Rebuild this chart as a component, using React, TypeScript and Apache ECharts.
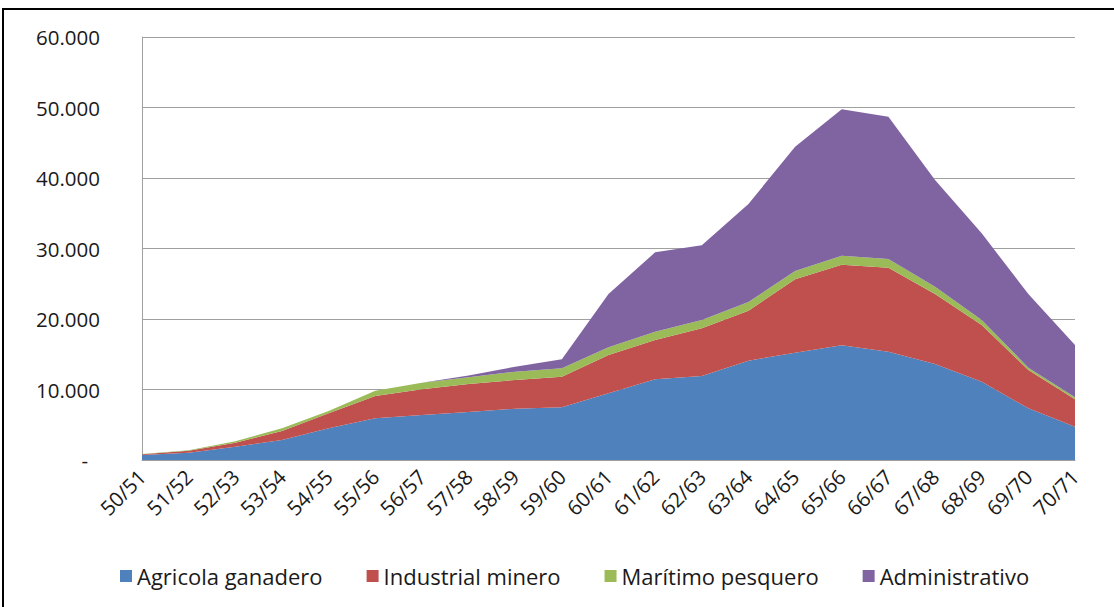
import React, { useEffect, useRef } from "react";
import * as echarts from "echarts";

const categories = [
  "50/51", "51/52", "52/53", "53/54", "54/55", "55/56", "56/57", "57/58", "58/59", "59/60",
  "60/61", "61/62", "62/63", "63/64", "64/65", "65/66", "66/67", "67/68", "68/69", "69/70", "70/71",
];

const agricola = [700, 1040, 1890, 2840, 4500, 5910, 6380, 6810, 7280, 7470, 9460, 11440, 11910, 14090, 15220, 16260, 15370, 13620, 11110, 7330, 4730];
const industrial = [120, 280, 560, 1270, 2120, 3170, 3650, 3970, 4070, 4350, 5430, 5580, 6770, 7090, 10410, 11450, 11910, 9930, 8040, 5440, 3870];
const maritimo = [40, 80, 200, 390, 330, 750, 940, 950, 1180, 1180, 1090, 1180, 1180, 1230, 1180, 1270, 1230, 1040, 710, 330, 290];
const administrativo = [0, 0, 0, 0, 0, 0, 0, 270, 710, 1280, 7570, 11260, 10590, 13900, 17630, 20760, 20190, 15130, 12290, 10450, 7420];

const seriesNames = ["Agricola ganadero", "Industrial minero", "Marítimo pesquero", "Administrativo"];
const seriesColors = ["#4F81BD", "#C0504D", "#9BBB59", "#8064A2"];

const FONT = "'Open Sans', 'Noto Sans', sans-serif";

function fmt(v: number): string {
  if (v === 0) return "{d|-}";
  const s = String(Math.round(v));
  return s.replace(/\B(?=(\d{3})+(?!\d))/g, ".");
}

export default function App() {
  const ref = useRef<HTMLDivElement>(null);
  useEffect(() => {
    if (!ref.current) return;
    const chart = echarts.init(ref.current, null, { renderer: "svg" });
    const data = [agricola, industrial, maritimo, administrativo];
    chart.setOption({
      animation: false,
      backgroundColor: "#ffffff",
      grid: { left: 142, right: 39, top: 37, bottom: 147, containLabel: false },
      legend: {
        bottom: 15,
        left: 115,
        itemWidth: 12,
        itemHeight: 12,
        itemGap: 44,
        icon: "rect",
        textStyle: { fontFamily: FONT, fontSize: 22, color: "#1a1a1a" },
        data: seriesNames,
      },
      graphic: [
        {
          type: "polyline",
          shape: { points: [[3, 607], [3, 9], [1114, 9]] },
          style: { stroke: "#000", lineWidth: 2, fill: "none" },
        },
      ],
      xAxis: {
        type: "category",
        boundaryGap: false,
        data: categories,
        axisLine: { lineStyle: { color: "#a0a0a0", width: 1 } },
        axisTick: { show: false },
        axisLabel: {
          rotate: 45,
          interval: 0,
          margin: 13,
          fontFamily: FONT,
          fontSize: 20.5,
          color: "#1a1a1a",
        },
      },
      yAxis: {
        type: "value",
        min: 0,
        max: 60000,
        interval: 10000,
        axisLine: { show: true, lineStyle: { color: "#a0a0a0", width: 1 } },
        axisTick: { show: false },
        splitLine: { lineStyle: { color: "#a0a0a0", width: 1 } },
        axisLabel: {
          margin: 42,
          fontFamily: FONT,
          fontSize: 20.5,
          color: "#1a1a1a",
          formatter: (v: number) => fmt(v),
          rich: { d: { fontFamily: FONT, fontSize: 20.5, color: "#1a1a1a", padding: [0, 12, 0, 0] } },
        },
      },
      series: data.map((d, i) => ({
        name: seriesNames[i],
        type: "line",
        stack: "total",
        data: d,
        symbol: "none",
        lineStyle: { width: 0 },
        itemStyle: { color: seriesColors[i] },
        areaStyle: { color: seriesColors[i], opacity: 1 },
      })),
    });
    return () => chart.dispose();
  }, []);
  return (
    <div
      ref={ref}
      style={{ position: "fixed", left: 0, top: 0, width: 1114, height: 607 }}
    />
  );
}
